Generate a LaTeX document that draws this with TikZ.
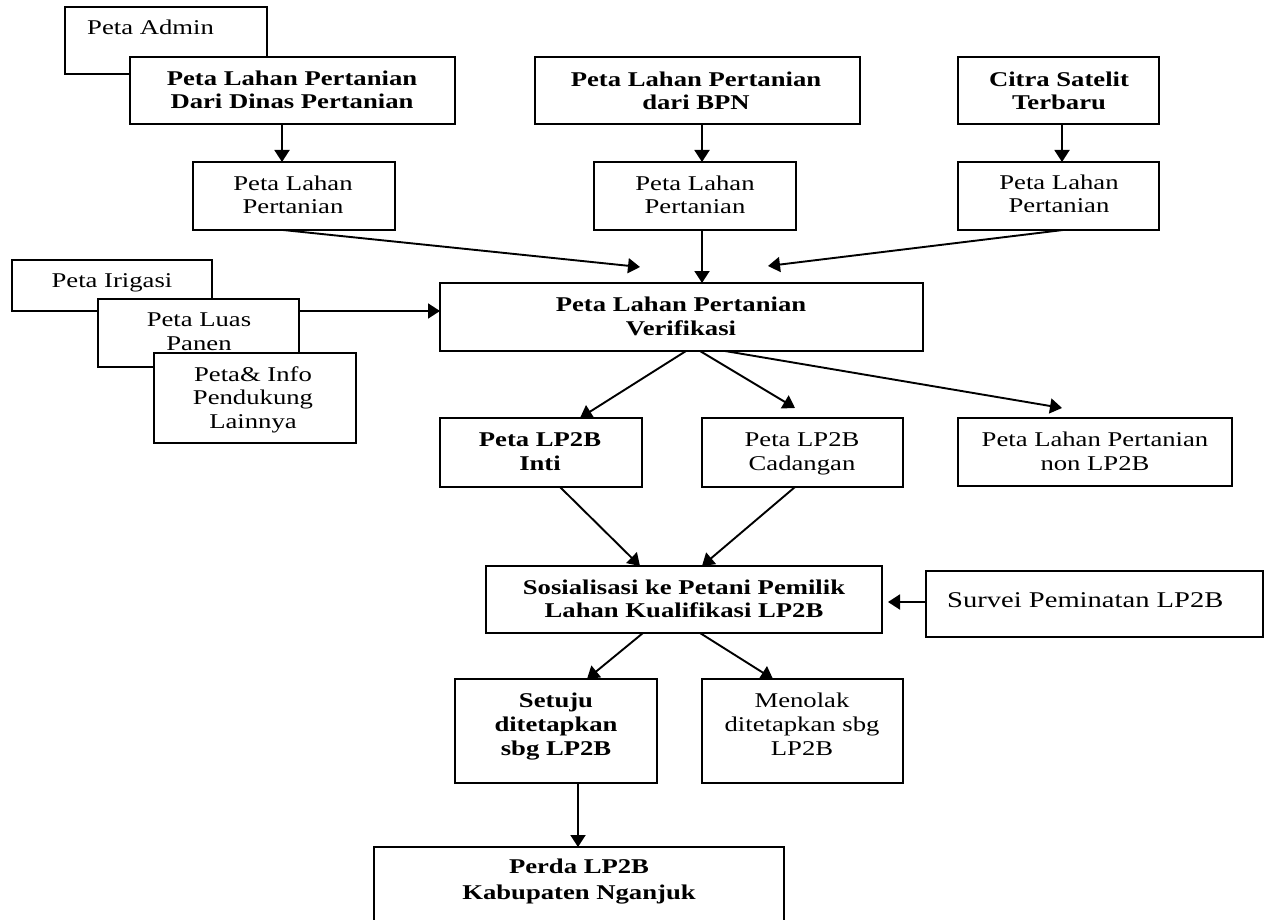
\documentclass[tikz,border=0pt]{standalone}
\usepackage{fontspec}
\setmainfont[FakeStretch=1.27]{Liberation Serif}
\usetikzlibrary{arrows.meta,fit}
\begin{document}
\begin{tikzpicture}[x=1pt,y=-1pt,
  box/.style={draw, line width=1.9pt, fill=white, inner sep=0pt, outer sep=0pt},
  txt/.style={anchor=base, align=center, inner sep=0pt, font=\fontsize{21}{23.5}\selectfont},
  btxt/.style={txt, font=\fontsize{21}{23.5}\selectfont\bfseries},
  arr/.style={line width=1.9pt, -{Triangle[length=12pt,width=15pt]}}]
\useasboundingbox (0,0) rectangle (1269,920);
% top left stack
\node[box, fit={(65,7)(267,74)}] (admin) {};
\node[txt, anchor=base west] (admin-t) at (87,35) {Peta Admin};
\node[box, fit={(130,57)(455,124)}] (dinas) {};
\node[btxt] (dinas-t) at (292,109) {Peta Lahan Pertanian\\Dari Dinas Pertanian};
\node[box, fit={(535,57)(860,124)}] (bpn) {};
\node[btxt] (bpn-t) at (696,110) {Peta Lahan Pertanian\\dari BPN};
\node[box, fit={(958,57)(1159,124)}] (citra) {};
\node[btxt] (citra-t) at (1059,110) {Citra Satelit\\Terbaru};
% second row
\node[box, fit={(193,162)(395,230)}] (plp1) {};
\node[txt] (plp1-t) at (293,214) {Peta Lahan\\Pertanian};
\node[box, fit={(594,162)(796,230)}] (plp2) {};
\node[txt] (plp2-t) at (695,214) {Peta Lahan\\Pertanian};
\node[box, fit={(958,162)(1159,230)}] (plp3) {};
\node[txt] (plp3-t) at (1059,213) {Peta Lahan\\Pertanian};
% left stack
\node[box, fit={(12,260)(212,311)}] (irigasi) {};
\node[txt] (irigasi-t) at (112,287) {Peta Irigasi};
\node[box, fit={(98,299)(299,367)}] (panen) {};
\node[txt] (panen-t) at (199,350) {Peta Luas\\Panen};
\node[box, fit={(154,353)(356,443)}] (info) {};
\node[txt] (info-t) at (253,428) {Peta\& Info\\Pendukung\\Lainnya};
% verification
\node[box, fit={(440,283)(923,351)}] (verif) {};
\node[btxt] (verif-t) at (681,335) {Peta Lahan Pertanian\\Verifikasi};
\node[box, fit={(440,418)(642,487)}] (inti) {};
\node[btxt] (inti-t) at (540,470) {Peta LP2B\\Inti};
\node[box, fit={(702,418)(903,487)}] (cad) {};
\node[txt] (cad-t) at (802,470) {Peta LP2B\\Cadangan};
\node[box, fit={(958,418)(1232,486)}] (non) {};
\node[txt] (non-t) at (1095,470) {Peta Lahan Pertanian\\non LP2B};
% socialisation
\node[box, fit={(486,566)(882,633)}] (sos) {};
\node[btxt, font=\fontsize{21}{22.5}\selectfont\bfseries] (sos-t) at (684,617) {Sosialisasi ke Petani Pemilik\\Lahan Kualifikasi LP2B};
\node[box, fit={(926,571)(1263,637)}] (survei) {};
\node[txt, anchor=base west, font=\fontsize{22.5}{25}\selectfont] (survei-t) at (947,607) {Survei Peminatan LP2B};
\node[box, fit={(455,679)(657,783)}] (setuju) {};
\node[btxt, font=\fontsize{21}{24}\selectfont\bfseries] (setuju-t) at (556,755) {Setuju\\ditetapkan\\sbg LP2B};
\node[box, fit={(702,679)(903,783)}] (menolak) {};
\node[txt, font=\fontsize{21}{24}\selectfont] (menolak-t) at (802,755) {Menolak\\ditetapkan sbg\\LP2B};
\node[box, fit={(374,847)(784,922)}] (perda) {};
\node[btxt, font=\fontsize{21}{26}\selectfont\bfseries] (perda-t) at (579,899) {Perda LP2B\\Kabupaten Nganjuk};
% connectors
\draw[arr] ([xshift=152pt]dinas.south west) -- ([xshift=89pt]plp1.north west);
\draw[arr] ([xshift=167pt]bpn.south west) -- ([xshift=108pt]plp2.north west);
\draw[arr] ([xshift=104pt]citra.south west) -- ([xshift=104pt]plp3.north west);
\draw[arr] ([xshift=90pt]plp1.south west) -- ([xshift=200pt,yshift=16pt]verif.north west);
\draw[arr] ([xshift=108pt]plp2.south west) -- ([xshift=262pt]verif.north west);
\draw[arr] ([xshift=105pt]plp3.south west) -- ([xshift=328pt,yshift=17pt]verif.north west);
\draw[arr] ([yshift=-12pt]panen.north east) -- ([yshift=-28pt]verif.north west);
\draw[arr] ([xshift=246pt]verif.south west) -- ([xshift=140pt]inti.north west);
\draw[arr] ([xshift=260pt]verif.south west) -- ([xshift=93pt,yshift=10pt]cad.north west);
\draw[arr] ([xshift=285pt]verif.south west) -- ([xshift=104pt,yshift=10pt]non.north west);
\draw[arr] ([xshift=120pt]inti.south west) -- ([xshift=154pt]sos.north west);
\draw[arr] ([xshift=93pt]cad.south west) -- ([xshift=216pt]sos.north west);
\draw[arr] ([xshift=157pt]sos.south west) -- ([xshift=132pt]setuju.north west);
\draw[arr] ([xshift=214pt]sos.south west) -- ([xshift=71pt]menolak.north west);
\draw[arr] ([yshift=-31pt]survei.north west) -- ([xshift=6pt,yshift=-36pt]sos.north east);
\draw[arr] ([xshift=123pt]setuju.south west) -- ([xshift=204pt]perda.north west);
\end{tikzpicture}
\end{document}
